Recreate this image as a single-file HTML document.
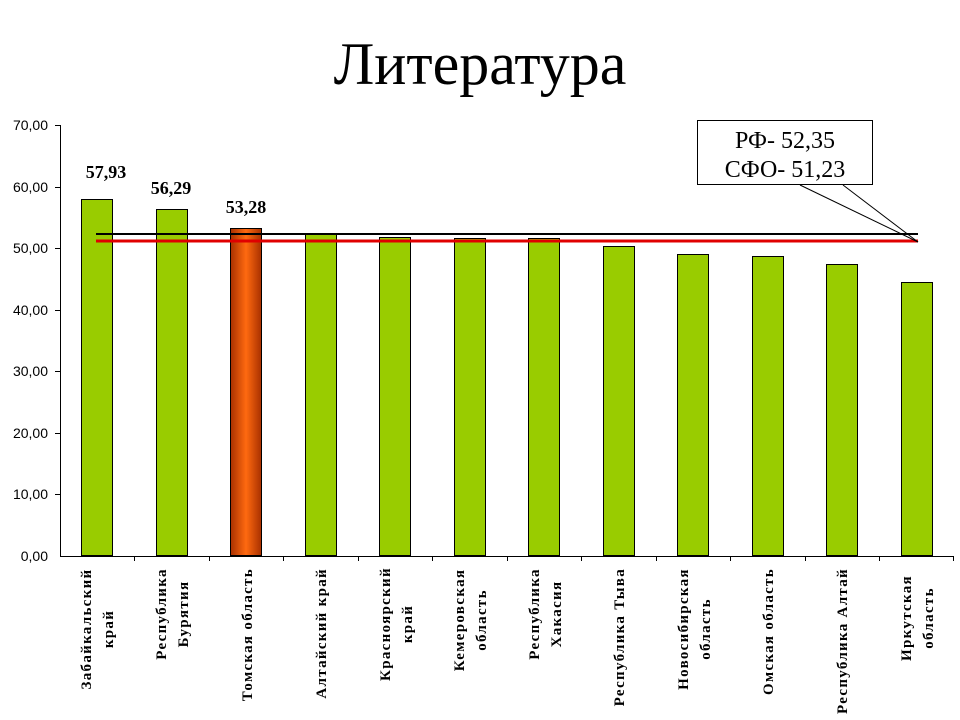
<!DOCTYPE html>
<html><head><meta charset="utf-8"><style>body{margin:0;background:#fff}svg{display:block}</style></head>
<body>
<svg width="960" height="720" xmlns="http://www.w3.org/2000/svg" font-family="Liberation Serif, serif">
<defs>
<linearGradient id="og" x1="0" x2="1" y1="0" y2="0">
<stop offset="0" stop-color="#a83000"/><stop offset="0.5" stop-color="#ff6a10"/><stop offset="1" stop-color="#a83000"/>
</linearGradient>
</defs>
<text x="480" y="84" font-size="60" text-anchor="middle">Литература</text>
<g font-family="Liberation Sans, sans-serif" font-size="14" text-anchor="end">
<text x="48" y="130">70,00</text>
<text x="48" y="192">60,00</text>
<text x="48" y="253">50,00</text>
<text x="48" y="315">40,00</text>
<text x="48" y="376">30,00</text>
<text x="48" y="438">20,00</text>
<text x="48" y="499">10,00</text>
<text x="48" y="561">0,00</text>
</g>
<g stroke="#000" stroke-width="1">
<line x1="60.5" y1="125" x2="60.5" y2="556"/>
<line x1="55" y1="125.5" x2="60" y2="125.5"/>
<line x1="55" y1="187.5" x2="60" y2="187.5"/>
<line x1="55" y1="248.5" x2="60" y2="248.5"/>
<line x1="55" y1="310.5" x2="60" y2="310.5"/>
<line x1="55" y1="371.5" x2="60" y2="371.5"/>
<line x1="55" y1="433.5" x2="60" y2="433.5"/>
<line x1="55" y1="494.5" x2="60" y2="494.5"/>
</g>
<g stroke="#000" stroke-width="1" fill="#99cc00">
<rect x="81.5" y="199.5" width="31" height="356"/>
<rect x="156.5" y="209.5" width="31" height="346"/>
<rect x="230.5" y="228.5" width="31" height="327" fill="url(#og)"/>
<rect x="305.5" y="233.5" width="31" height="322"/>
<rect x="379.5" y="237.5" width="31" height="318"/>
<rect x="454.5" y="238.5" width="31" height="317"/>
<rect x="528.5" y="238.5" width="31" height="317"/>
<rect x="603.5" y="246.5" width="31" height="309"/>
<rect x="677.5" y="254.5" width="31" height="301"/>
<rect x="752.5" y="256.5" width="31" height="299"/>
<rect x="826.5" y="264.5" width="31" height="291"/>
<rect x="901.5" y="282.5" width="31" height="273"/>
</g>
<line x1="96" y1="234" x2="918" y2="234" stroke="#000" stroke-width="2"/>
<line x1="96" y1="241" x2="918" y2="241" stroke="#e00000" stroke-width="3"/>
<g stroke="#000" stroke-width="1">
<line x1="60" y1="556.5" x2="953" y2="556.5"/>
<line x1="134.5" y1="556" x2="134.5" y2="561"/>
<line x1="209.5" y1="556" x2="209.5" y2="561"/>
<line x1="283.5" y1="556" x2="283.5" y2="561"/>
<line x1="358.5" y1="556" x2="358.5" y2="561"/>
<line x1="432.5" y1="556" x2="432.5" y2="561"/>
<line x1="507.5" y1="556" x2="507.5" y2="561"/>
<line x1="581.5" y1="556" x2="581.5" y2="561"/>
<line x1="656.5" y1="556" x2="656.5" y2="561"/>
<line x1="730.5" y1="556" x2="730.5" y2="561"/>
<line x1="805.5" y1="556" x2="805.5" y2="561"/>
<line x1="879.5" y1="556" x2="879.5" y2="561"/>
<line x1="953.5" y1="556" x2="953.5" y2="561"/>
</g>
<g font-size="18" font-weight="bold" text-anchor="middle">
<text x="106" y="178">57,93</text>
<text x="171" y="194">56,29</text>
<text x="246" y="213">53,28</text>
</g>
<g font-size="15" font-weight="bold" text-anchor="end" letter-spacing="1.3">
<text transform="translate(252,568) rotate(-90)">Томская область</text>
<text transform="translate(326,568) rotate(-90)">Алтайский край</text>
<text transform="translate(624,568) rotate(-90)">Республика Тыва</text>
<text transform="translate(773,568) rotate(-90)">Омская область</text>
<text transform="translate(847,568) rotate(-90)">Республика Алтай</text>
</g>
<g font-size="15" font-weight="bold" text-anchor="middle" letter-spacing="1.3">
<text transform="translate(91,629) rotate(-90)">Забайкальский</text>
<text transform="translate(113,629) rotate(-90)">край</text>
<text transform="translate(166,614) rotate(-90)">Республика</text>
<text transform="translate(188,614) rotate(-90)">Бурятия</text>
<text transform="translate(390,624) rotate(-90)">Красноярский</text>
<text transform="translate(412,624) rotate(-90)">край</text>
<text transform="translate(464,620) rotate(-90)">Кемеровская</text>
<text transform="translate(486,620) rotate(-90)">область</text>
<text transform="translate(539,614) rotate(-90)">Республика</text>
<text transform="translate(561,614) rotate(-90)">Хакасия</text>
<text transform="translate(688,629) rotate(-90)">Новосибирская</text>
<text transform="translate(710,629) rotate(-90)">область</text>
<text transform="translate(911,618) rotate(-90)">Иркутская</text>
<text transform="translate(933,618) rotate(-90)">область</text>
</g>
<rect x="697.5" y="120.5" width="175" height="64" fill="#fff" stroke="#000"/>
<g font-size="24" text-anchor="middle">
<text x="785" y="148">РФ- 52,35</text>
<text x="785" y="177">СФО- 51,23</text>
</g>
<line x1="800" y1="185" x2="918" y2="242" stroke="#000" stroke-width="1"/>
<line x1="843" y1="185" x2="918" y2="242" stroke="#000" stroke-width="1"/>
</svg>
</body></html>
